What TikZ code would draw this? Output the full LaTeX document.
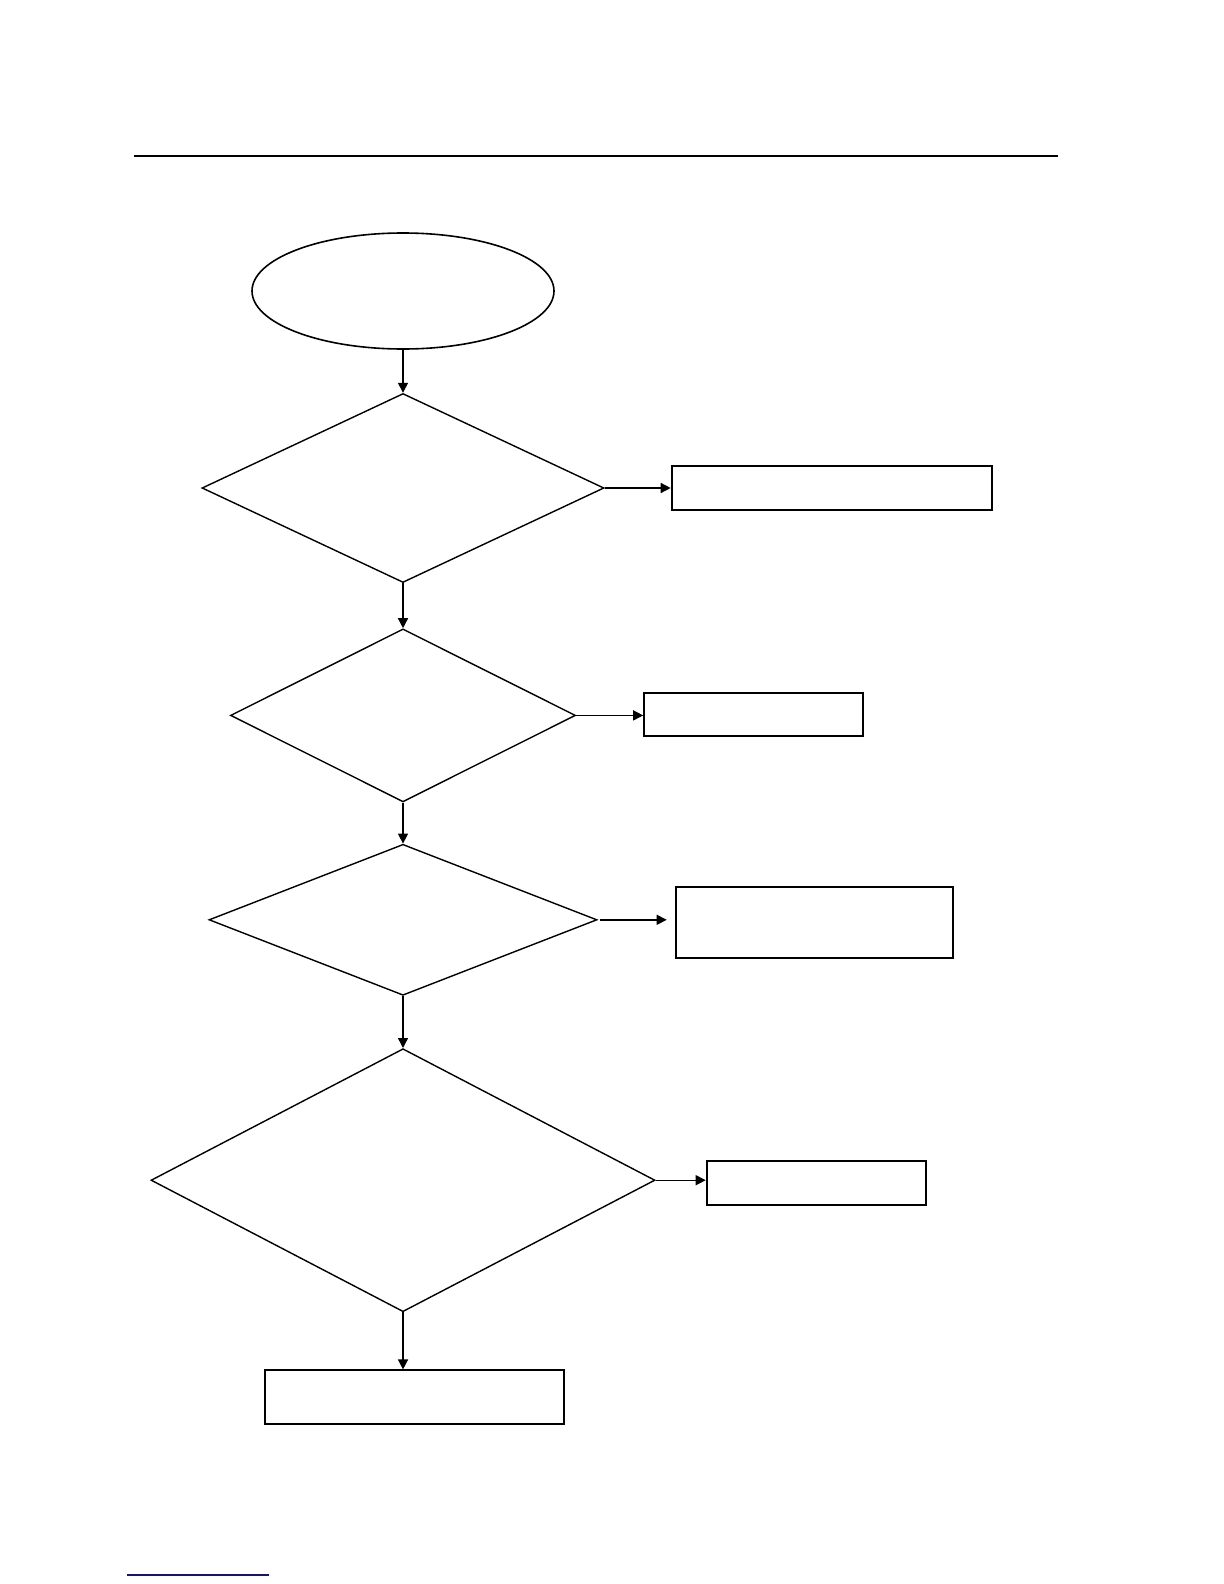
\documentclass[tikz,border=0pt]{standalone}
\usetikzlibrary{positioning, shapes.geometric, arrows.meta}

\begin{document}
\begin{tikzpicture}[
    x=0.5pt, y=-0.5pt,
    >={Triangle[length=5pt,width=5pt]},
    startnode/.style={draw=black, line width=0.8pt, ellipse, inner sep=0pt, minimum width=151pt, minimum height=58pt},
    decision/.style={draw=black, line width=0.7pt, diamond, inner sep=0pt},
    process/.style={draw=black, line width=1pt, rectangle, inner sep=0pt},
    arrow/.style={->, line width=0.7pt, draw=black}
  ]
    \useasboundingbox (0,0) rectangle (1224,1584);
    \draw[line width=0.6pt] (134,156) -- (1058,156);

    \node[startnode] (start) at (403,291) {};
    \node[decision, minimum width=201pt, minimum height=94.5pt, below=21.5pt of start] (dec1) {};
    \node[decision, minimum width=172.5pt, minimum height=86.5pt, below=22.5pt of dec1] (dec2) {};
    \node[decision, minimum width=194pt, minimum height=75.5pt, below=20.5pt of dec2] (dec3) {};
    \node[decision, minimum width=252pt, minimum height=131.5pt, below=26pt of dec3] (dec4) {};
    \node[process, minimum width=149.5pt, minimum height=27pt, below=28.5pt of dec4, xshift=5.5pt] (final) {};

    \node[process, minimum width=160pt, minimum height=22pt, right=33pt of dec1] (out1) {};
    \node[process, minimum width=109.5pt, minimum height=21.5pt, right=33.5pt of dec2, yshift=0.5pt] (out2) {};
    \node[process, minimum width=138.5pt, minimum height=35.5pt, right=38.5pt of dec3, yshift=-1.5pt] (out3) {};
    \node[process, minimum width=109.5pt, minimum height=22pt, right=25pt of dec4, yshift=-1.5pt] (out4) {};

    \draw[arrow] (start) -- (dec1);
    \draw[arrow] (dec1) -- (dec2);
    \draw[arrow] (dec2) -- (dec3);
    \draw[arrow] (dec3) -- (dec4);
    \draw[arrow] (dec4.south) -- (dec4.south |- final.north);

    \draw[arrow] (dec1.east) -- (dec1.east -| out1.west);
    \draw[arrow] (dec2.east) -- (dec2.east -| out2.west);
    \draw[arrow, shorten <=1pt, shorten >=4pt] (dec3.east) -- (dec3.east -| out3.west);
    \draw[arrow] (dec4.east) -- (dec4.east -| out4.west);

    \draw[line width=0.7pt, draw={rgb,255:red,20;green,20;blue,120}] (127,1575) -- (269,1575);
\end{tikzpicture}
\end{document}
